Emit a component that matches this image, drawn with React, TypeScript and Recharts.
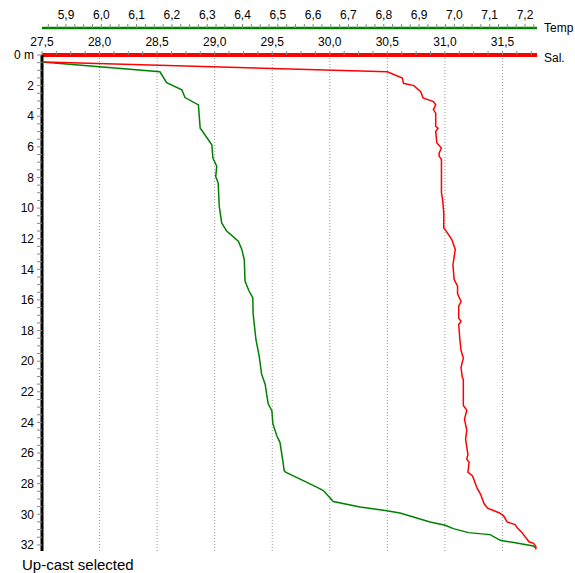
import React from "react";
import { ScatterChart, Scatter, XAxis, YAxis, ReferenceLine } from "recharts";

// [depth m, salinity]
const SALINITY: [number, number][] = [
  [0.46, 27.52], [1.1, 30.5], [1.5, 30.63], [1.85, 30.64], [2.0, 30.73],
  [2.4, 30.79], [2.8, 30.81], [3.04, 30.9], [3.26, 30.92], [3.58, 30.9],
  [3.8, 30.92], [4.67, 30.92], [4.78, 30.94], [5.0, 30.92], [5.75, 30.93],
  [6.08, 30.97], [6.4, 30.95], [6.6, 30.95], [6.84, 30.97], [9.0, 30.97],
  [9.45, 30.98], [10.3, 30.99], [11.3, 30.99], [11.6, 31.02], [12.05, 31.06],
  [12.7, 31.09], [13.7, 31.07], [14.66, 31.08], [15.1, 31.11], [15.6, 31.11],
  [16.1, 31.14], [16.4, 31.12], [17.2, 31.12], [17.4, 31.14], [17.6, 31.12],
  [18.6, 31.13], [19.3, 31.14], [19.8, 31.16], [20.4, 31.14], [21.0, 31.15],
  [21.2, 31.16], [22.9, 31.16], [23.2, 31.19], [23.8, 31.17], [24.5, 31.19],
  [25.1, 31.18], [26.1, 31.2], [26.4, 31.19], [26.6, 31.21], [27.25, 31.2],
  [27.5, 31.24], [28.3, 31.28], [28.7, 31.31], [29.3, 31.34], [29.6, 31.37],
  [29.9, 31.47], [30.1, 31.51], [30.5, 31.54], [30.67, 31.61], [30.9, 31.63],
  [31.2, 31.67], [31.6, 31.71], [31.8, 31.73], [31.9, 31.77], [32.1, 31.79],
  [32.3, 31.79],
];

// [depth m, temperature]
const TEMPERATURE: [number, number][] = [
  [0.46, 5.832], [1.1, 6.166], [1.8, 6.185], [2.28, 6.228], [2.78, 6.237],
  [3.26, 6.275], [4.78, 6.28], [4.9, 6.284], [5.86, 6.313], [6.73, 6.316],
  [7.27, 6.327], [7.93, 6.324], [8.36, 6.331], [9.88, 6.334], [10.97, 6.341],
  [11.5, 6.355], [12.16, 6.388], [12.7, 6.398], [13.4, 6.405], [14.77, 6.407],
  [15.4, 6.418], [15.85, 6.429], [16.9, 6.43], [18.6, 6.438], [19.65, 6.447],
  [20.85, 6.454], [21.5, 6.464], [22.26, 6.469], [22.8, 6.473], [23.24, 6.483],
  [24.1, 6.486], [24.87, 6.497], [25.3, 6.506], [26.5, 6.514], [27.15, 6.518],
  [27.25, 6.522], [27.8, 6.572], [28.23, 6.61], [28.45, 6.629], [29.17, 6.657],
  [29.53, 6.733], [29.75, 6.804], [29.92, 6.846], [30.5, 6.931], [30.72, 6.974],
  [30.94, 6.997], [31.2, 7.04], [31.33, 7.101], [31.7, 7.13], [32.07, 7.224],
  [32.2, 7.23],
];

const SAL_TICKS = [27.5, 28, 28.5, 29, 29.5, 30, 30.5, 31, 31.5];
const TEMP_TICKS = [5.9, 6.0, 6.1, 6.2, 6.3, 6.4, 6.5, 6.6, 6.7, 6.8, 6.9, 7.0, 7.1, 7.2];
const DEPTH_TICKS = [0, 2, 4, 6, 8, 10, 12, 14, 16, 18, 20, 22, 24, 26, 28, 30, 32];

const SAL_DOMAIN: [number, number] = [27.5, 31.8];
const TEMP_DOMAIN: [number, number] = [5.832, 7.234];
const DEPTH_DOMAIN: [number, number] = [0, 32.4];

const FONT = "'Liberation Sans', Arial, sans-serif";

const steps = (from: number, to: number, step: number) => {
  const out: number[] = [];
  for (let i = 0; from + i * step <= to + 1e-9; i++) out.push(+(from + i * step).toFixed(4));
  return out;
};

const isMajor = (majors: number[], v: number) => majors.some((m) => Math.abs(m - v) < 1e-6);
const comma = (v: number) => v.toFixed(1).replace(".", ",");

const salData = SALINITY.map(([d, v]) => ({ d, v }));
const tempData = TEMPERATURE.map(([d, v]) => ({ d, v }));

const tickStyle = { fontSize: 12, fill: "#000", fontFamily: FONT };
const tickLine = { stroke: "#888", strokeWidth: 1 };
const noDot = () => <g />;
const axisName: React.CSSProperties = {
  position: "absolute",
  left: 544,
  fontSize: 12,
  lineHeight: "14px",
  whiteSpace: "nowrap",
};

export default function App() {
  return (
    <div style={{ position: "relative", width: 575, height: 573, fontFamily: FONT }}>
      <style>{"body{margin:0}"}</style>
      <div style={{ position: "absolute", left: 8, top: 8 }}>
        <ScatterChart width={567} height={545} margin={{ top: 0, right: 38, bottom: 2, left: 0 }}>
          <XAxis
            xAxisId="sal"
            type="number"
            dataKey="v"
            orientation="top"
            domain={SAL_DOMAIN}
            allowDataOverflow
            ticks={steps(27.5, 31.75, 0.125)}
            interval={0}
            tickFormatter={(v: number) => (isMajor(SAL_TICKS, v) ? comma(v) : "")}
            height={27}
            tick={tickStyle}
            tickSize={4}
            tickMargin={5}
            tickLine={tickLine}
            axisLine={{ stroke: "#ff0000", strokeWidth: 4 }}
          />
          <XAxis
            xAxisId="temp"
            type="number"
            dataKey="v"
            orientation="top"
            domain={TEMP_DOMAIN}
            allowDataOverflow
            ticks={steps(5.85, 7.225, 0.025)}
            interval={0}
            tickFormatter={(v: number) => (isMajor(TEMP_TICKS, v) ? comma(v) : "")}
            height={20}
            tick={tickStyle}
            tickSize={4}
            tickMargin={5}
            tickLine={tickLine}
            axisLine={{ stroke: "#008000", strokeWidth: 2.5 }}
          />
          <XAxis
            xAxisId="frame"
            type="number"
            orientation="bottom"
            domain={SAL_DOMAIN}
            height={0}
            tick={false}
            tickLine={false}
            axisLine={{ stroke: "#000", strokeWidth: 2 }}
          />
          <YAxis
            yAxisId="depth"
            type="number"
            dataKey="d"
            reversed
            domain={DEPTH_DOMAIN}
            allowDataOverflow
            ticks={steps(0, 32, 0.5)}
            interval={0}
            tickFormatter={(v: number) =>
              v === 0 ? "0 m" : isMajor(DEPTH_TICKS, v) ? String(v) : ""
            }
            width={34}
            tick={tickStyle}
            tickSize={5}
            tickMargin={3}
            tickLine={tickLine}
            axisLine={{ stroke: "#000", strokeWidth: 3 }}
          />
          <YAxis
            yAxisId="frame"
            type="number"
            orientation="right"
            reversed
            domain={DEPTH_DOMAIN}
            width={0}
            tick={false}
            tickLine={false}
            axisLine={{ stroke: "#666", strokeWidth: 2 }}
          />
          {SAL_TICKS.slice(1).map((t) => (
            <ReferenceLine
              key={t}
              xAxisId="sal"
              yAxisId="depth"
              x={t}
              stroke="#999"
              strokeDasharray="1 2"
            />
          ))}
          <Scatter
            xAxisId="temp"
            yAxisId="depth"
            data={tempData}
            line={{ stroke: "#008000", strokeWidth: 1.5 }}
            lineType="joint"
            shape={noDot}
            isAnimationActive={false}
          />
          <Scatter
            xAxisId="sal"
            yAxisId="depth"
            data={salData}
            line={{ stroke: "#ff0000", strokeWidth: 1.5 }}
            lineType="joint"
            shape={noDot}
            isAnimationActive={false}
          />
        </ScatterChart>
      </div>
      <span style={{ ...axisName, top: 21 }}>Temp</span>
      <span style={{ ...axisName, top: 51 }}>Sal.</span>
      <span
        style={{
          position: "absolute",
          left: 22,
          top: 557,
          fontSize: 15,
          lineHeight: "15px",
          whiteSpace: "nowrap",
        }}
      >
        Up-cast selected
      </span>
    </div>
  );
}
